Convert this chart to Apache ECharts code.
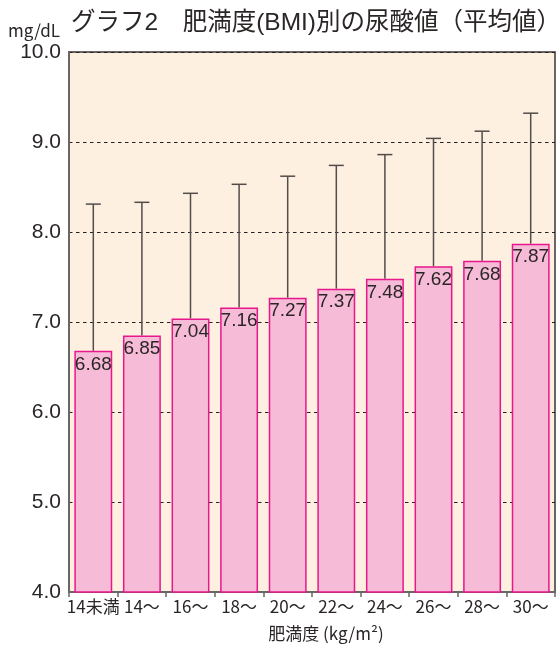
<!DOCTYPE html>
<html>
<head>
<meta charset="utf-8">
<script src="https://cdn.jsdelivr.net/npm/echarts@6/dist/echarts.min.js"></script>
<style>html,body{margin:0;padding:0;background:#fff}#c{width:557px;height:646px}</style>
</head>
<body>
<div id="c"></div>
<script>
const categories = ['14未満', '14〜', '16〜', '18〜', '20〜', '22〜', '24〜', '26〜', '28〜', '30〜'];
const meanValues = [6.68, 6.85, 7.04, 7.16, 7.27, 7.37, 7.48, 7.62, 7.68, 7.87];
const upperValues = [8.31, 8.33, 8.43, 8.53, 8.62, 8.74, 8.86, 9.04, 9.12, 9.32];
const yTicks = [4, 5, 6, 7, 8, 9, 10];

const FONT = '"Liberation Sans", "Noto Sans CJK JP", sans-serif';
const NARROW = '"Noto Sans CJK JP", sans-serif';
const chart = echarts.init(document.getElementById('c'), null, {renderer: 'canvas'});
chart.setOption({
  animation: false,
  backgroundColor: '#fff',
  textStyle: {fontFamily: FONT},
  title: [{
    text: 'グラフ2　肥満度(BMI)別の尿酸値（平均値）',
    left: 71, top: 11, padding: 0,
    textStyle: {fontSize: 24.5, fontWeight: 'normal', color: '#2a2626', fontFamily: FONT}
  }, {
    text: 'mg/dL',
    left: 8, top: 22, padding: 0,
    textStyle: {fontSize: 17, fontWeight: 'normal', color: '#2a2626', fontFamily: NARROW}
  }],
  grid: {
    left: 69, right: 2, top: 52, bottom: 54,
    outerBoundsMode: 'none',
    containLabel: false,
    show: true, backgroundColor: '#fdf0e0', borderColor: '#3a3434', borderWidth: 1.5
  },
  xAxis: {
    type: 'category',
    data: categories,
    name: '肥満度 (kg/m²)',
    nameLocation: 'middle',
    nameGap: 33,
    nameTextStyle: {fontSize: 17, color: '#2a2626', fontFamily: NARROW, padding: [0, 0, 0, 28]},
    axisLine: {lineStyle: {color: '#6b6666', width: 2}},
    axisTick: {show: true, length: 5, lineStyle: {color: '#6b6666', width: 1.5}},
    axisLabel: {interval: 0, fontSize: 17, color: '#2a2626', margin: 6, fontFamily: NARROW},
    splitLine: {show: false}
  },
  yAxis: {
    type: 'value',
    min: 4, max: 10, interval: 1,
    axisLine: {show: true, lineStyle: {color: '#6b6666', width: 2}},
    axisTick: {show: false},
    axisLabel: {
      fontSize: 21, color: '#2a2626', margin: 8, fontFamily: FONT,
      formatter: v => yTicks.includes(v) ? v.toFixed(1) : ''
    },
    splitLine: {
      show: true,
      lineStyle: {color: '#222', type: [3.5, 3.5], width: 1}
    }
  },
  series: [{
    type: 'bar',
    data: meanValues,
    barCategoryGap: '22%',
    itemStyle: {color: '#f6bbd6', borderColor: '#e8178c', borderWidth: 1.5},
    label: {
      show: true, position: 'insideTop', distance: 4,
      fontSize: 19, color: '#2a2626', fontFamily: FONT,
      formatter: p => p.value.toFixed(2)
    },
    z: 2
  }, {
    type: 'custom',
    data: categories.map((c, i) => [i, meanValues[i], upperValues[i]]),
    encode: {x: 0, y: [1, 2]},
    z: 1,
    renderItem: function (params, api) {
      const i = api.value(0);
      const lo = api.coord([i, api.value(1)]);
      const hi = api.coord([i, api.value(2)]);
      const half = 7.5;
      const style = {stroke: '#524c4a', lineWidth: 1.5};
      return {
        type: 'group',
        children: [
          {type: 'line', shape: {x1: lo[0], y1: lo[1], x2: hi[0], y2: hi[1]}, style: style},
          {type: 'line', shape: {x1: hi[0] - half, y1: hi[1], x2: hi[0] + half, y2: hi[1]}, style: style}
        ]
      };
    }
  }]
});
</script>
</body>
</html>
